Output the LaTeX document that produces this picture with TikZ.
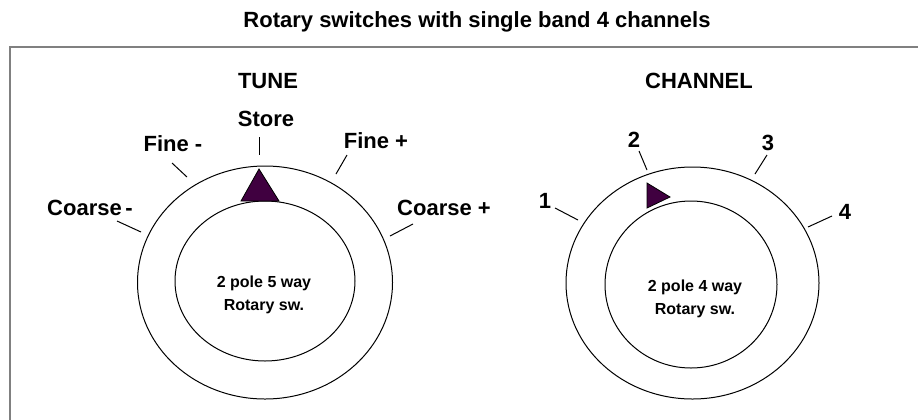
\documentclass[tikz,border=0pt]{standalone}
\usepackage{fontspec}
\setmainfont{Liberation Sans}
\usetikzlibrary{shapes.geometric}
\definecolor{dialpurple}{RGB}{64,0,64}
\definecolor{framegray}{RGB}{128,128,128}
\begin{document}
\begin{tikzpicture}[x=0.75pt,y=-0.75pt,
  lbl/.style={font=\fontsize{16.5}{18}\selectfont\bfseries, inner sep=0pt, anchor=base},
  small/.style={font=\fontsize{12}{17.25}\selectfont\bfseries, align=center, inner sep=0pt},
  ring/.style={draw=black, line width=0.75pt, ellipse, inner sep=0pt},
  tickline/.style={draw=black, line width=0.75pt},
  pointer/.style={draw=black, fill=dialpurple, line width=0.6pt, line join=miter}]
\useasboundingbox (0,0) rectangle (918,419);

% frame
\draw[framegray, line width=1.2pt] (10,425) -- (10,47) -- (925,47);

% titles
\node[lbl] (title) at (477,27) {Rotary switches with single band 4 channels};
\node[lbl] (tune) at (268,88) {TUNE};
\node[lbl] (channel) at (699,88) {CHANNEL};

% ---------- TUNE dial ----------
\node[ring, minimum width=191.25pt, minimum height=174.75pt] (tOuter) at (265,282.5) {};
\node[ring, minimum width=135pt, minimum height=120pt] (tInner) at (265,281) {};
\node[small] (tText) at (264,295) {2 pole 5 way\\Rotary sw.};
\draw[pointer] (259,169) -- (279,201) -- (241,201) -- cycle;

\node[lbl] (coarseM) at (90,215) {Coarse\,-};
\node[lbl] (fineM) at (173,151) {Fine -};
\node[lbl] (store) at (266,126) {Store};
\node[lbl] (fineP) at (376,148) {Fine +};
\node[lbl] (coarseP) at (444,215) {Coarse +};

\coordinate (a1) at (117,221); \coordinate (a2) at (141,232);
\coordinate (b1) at (172,163); \coordinate (b2) at (187,177);
\coordinate (c1) at (259,137); \coordinate (c2) at (259,155);
\coordinate (d1) at (347,155); \coordinate (d2) at (336,174);
\coordinate (e1) at (413,224); \coordinate (e2) at (390,236);
\draw[tickline] (a1) -- (a2);
\draw[tickline] (b1) -- (b2);
\draw[tickline] (c1) -- (c2);
\draw[tickline] (d1) -- (d2);
\draw[tickline] (e1) -- (e2);

% ---------- CHANNEL dial ----------
\node[ring, minimum width=189.75pt, minimum height=174pt] (cOuter) at (692.5,283) {};
\node[ring, minimum width=129pt, minimum height=125.25pt] (cInner) at (691,284.5) {};
\node[small] (cText) at (695,299) {2 pole 4 way\\Rotary sw.};
\draw[pointer] (647,183) -- (670,197) -- (647,208) -- cycle;

\node[lbl] (ch1) at (545,208) {1};
\node[lbl] (ch2) at (634,147) {2};
\node[lbl] (ch3) at (768,150) {3};
\node[lbl] (ch4) at (845,219) {4};

\coordinate (f1) at (555,208); \coordinate (f2) at (578,220);
\coordinate (g1) at (639,151); \coordinate (g2) at (647,170);
\coordinate (h1) at (767,155); \coordinate (h2) at (755,174);
\coordinate (i1) at (832,216); \coordinate (i2) at (808,227);
\draw[tickline] (f1) -- (f2);
\draw[tickline] (g1) -- (g2);
\draw[tickline] (h1) -- (h2);
\draw[tickline] (i1) -- (i2);
\end{tikzpicture}
\end{document}
